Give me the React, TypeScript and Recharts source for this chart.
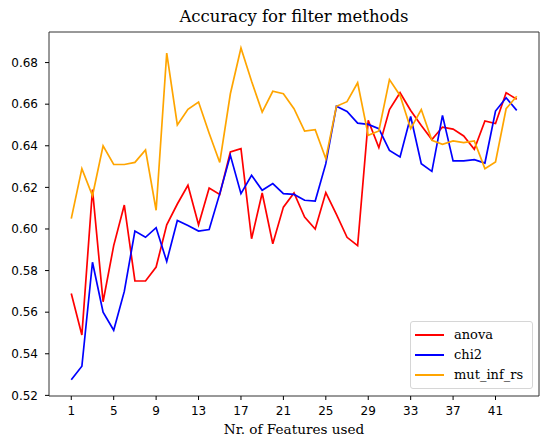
import React from 'react';
import { LineChart, Line, XAxis, YAxis, Legend, ReferenceLine } from 'recharts';

// number of features used (x)
const featureCounts = [
  1, 2, 3, 4, 5, 6, 7, 8, 9, 10, 11, 12, 13, 14, 15, 16, 17, 18, 19, 20, 21, 22,
  23, 24, 25, 26, 27, 28, 29, 30, 31, 32, 33, 34, 35, 36, 37, 38, 39, 40, 41, 42, 43,
];

const anova = [
  0.569, 0.549, 0.619, 0.565, 0.592, 0.6115, 0.575, 0.575, 0.5817, 0.602,
  0.612, 0.621, 0.602, 0.6197, 0.6166, 0.637, 0.6386, 0.5953, 0.6173, 0.5929,
  0.6105, 0.6173, 0.6057, 0.6, 0.6175, 0.607, 0.596, 0.592, 0.6522, 0.6391,
  0.6574, 0.6655, 0.657, 0.6498, 0.643, 0.649, 0.648, 0.6447, 0.6383, 0.6519,
  0.6507, 0.6655, 0.6624,
];

const chi2 = [
  0.5275, 0.534, 0.584, 0.56, 0.5513, 0.57, 0.599, 0.596, 0.6006, 0.5844,
  0.6041, 0.6017, 0.599, 0.5997, 0.617, 0.6354, 0.617, 0.6258, 0.6186, 0.6218,
  0.617, 0.6166, 0.6138, 0.6134, 0.6314, 0.659, 0.6565, 0.6509, 0.6503, 0.6482,
  0.6378, 0.6346, 0.6541, 0.6314, 0.6277, 0.6546, 0.6327, 0.6327, 0.6333, 0.6317,
  0.6567, 0.6631, 0.657,
];

const mutInfRs = [
  0.605, 0.629, 0.616, 0.64, 0.631, 0.631, 0.632, 0.638, 0.609, 0.6846,
  0.65, 0.6575, 0.661, 0.646, 0.632, 0.665, 0.687, 0.671, 0.6562, 0.6662,
  0.665, 0.6578, 0.6471, 0.6477, 0.6338, 0.659, 0.6612, 0.6703, 0.645, 0.6471,
  0.6718, 0.6642, 0.6482, 0.6574, 0.6426, 0.6407, 0.6423, 0.6415, 0.6423, 0.629,
  0.6322, 0.6578, 0.6638,
];

const xTicks = [1, 5, 9, 13, 17, 21, 25, 29, 33, 37, 41];
const yTicks = [0.52, 0.54, 0.56, 0.58, 0.6, 0.62, 0.64, 0.66, 0.68];
const xDomain = [-1.1, 45.1];
const yDomain = [0.5197, 0.6947];

const series = [
  { key: 'anova', name: 'anova', color: '#ff0000' },
  { key: 'chi2', name: 'chi2', color: '#0000ff' },
  { key: 'mut_inf_rs', name: 'mut_inf_rs', color: '#ffa500' },
];

const chartData = featureCounts.map((n, i) => ({
  n,
  anova: anova[i],
  chi2: chi2[i],
  mut_inf_rs: mutInfRs[i],
}));

const SERIF = '"DejaVu Serif", serif';
const SANS = '"DejaVu Sans", sans-serif';
const SPINE = '#333';

const tickStyle = { fill: '#000', fontSize: 12, fontFamily: SANS };

function LegendBox() {
  return (
    <div
      style={{
        border: '1px solid #d6d6d6',
        borderRadius: 3,
        background: 'rgba(255,255,255,0.85)',
        padding: '3px 4px 3px 4px',
        fontFamily: SERIF,
        fontSize: 13,
        color: '#000',
      }}
    >
      {series.map((s) => (
        <div key={s.key} style={{ display: 'flex', alignItems: 'center', height: 20 }}>
          <svg width={29} height={4} style={{ display: 'block' }}>
            <line x1={0} y1={2} x2={29} y2={2} stroke={s.color} strokeWidth={2} />
          </svg>
          <span style={{ marginLeft: 10, lineHeight: '20px' }}>{s.name}</span>
        </div>
      ))}
    </div>
  );
}

export default function App() {
  return (
    <div style={{ position: 'absolute', left: 0, top: 0, width: 550, height: 445, background: '#fff' }}>
      <div
        style={{
          position: 'absolute',
          left: 49,
          top: 7,
          width: 490,
          textAlign: 'center',
          fontFamily: SERIF,
          fontSize: 16.5,
          lineHeight: '19px',
          color: '#000',
        }}
      >
        Accuracy for filter methods
      </div>
      <LineChart
        width={550}
        height={445}
        data={chartData}
        margin={{ top: 32, right: 11, bottom: 0, left: 0 }}
      >
        <XAxis
          dataKey="n"
          type="number"
          domain={xDomain}
          ticks={xTicks}
          allowDataOverflow
          height={49}
          tick={tickStyle}
          tickSize={4}
          tickMargin={6}
          axisLine={{ stroke: SPINE }}
          tickLine={{ stroke: '#000' }}
          label={{
            value: 'Nr. of Features used',
            position: 'insideBottom',
            offset: 11,
            style: { fill: '#000', fontSize: 13.6, fontFamily: SERIF },
          }}
        />
        <YAxis
          type="number"
          domain={yDomain}
          ticks={yTicks}
          allowDataOverflow
          width={49}
          tick={tickStyle}
          tickSize={4}
          tickMargin={7}
          tickFormatter={(v: number) => v.toFixed(2)}
          axisLine={{ stroke: SPINE }}
          tickLine={{ stroke: '#000' }}
        />
        {/* top and right spines */}
        <ReferenceLine y={yDomain[1]} stroke={SPINE} ifOverflow="visible" />
        <ReferenceLine x={xDomain[1]} stroke={SPINE} ifOverflow="visible" />
        <Legend
          layout="horizontal"
          align="center"
          verticalAlign="middle"
          wrapperStyle={{ left: 410, top: 321, width: 123 }}
          content={() => <LegendBox />}
        />
        {series.map((s) => (
          <Line
            key={s.key}
            type="linear"
            dataKey={s.key}
            name={s.name}
            stroke={s.color}
            strokeWidth={1.7}
            dot={false}
            activeDot={false}
            isAnimationActive={false}
          />
        ))}
      </LineChart>
    </div>
  );
}
